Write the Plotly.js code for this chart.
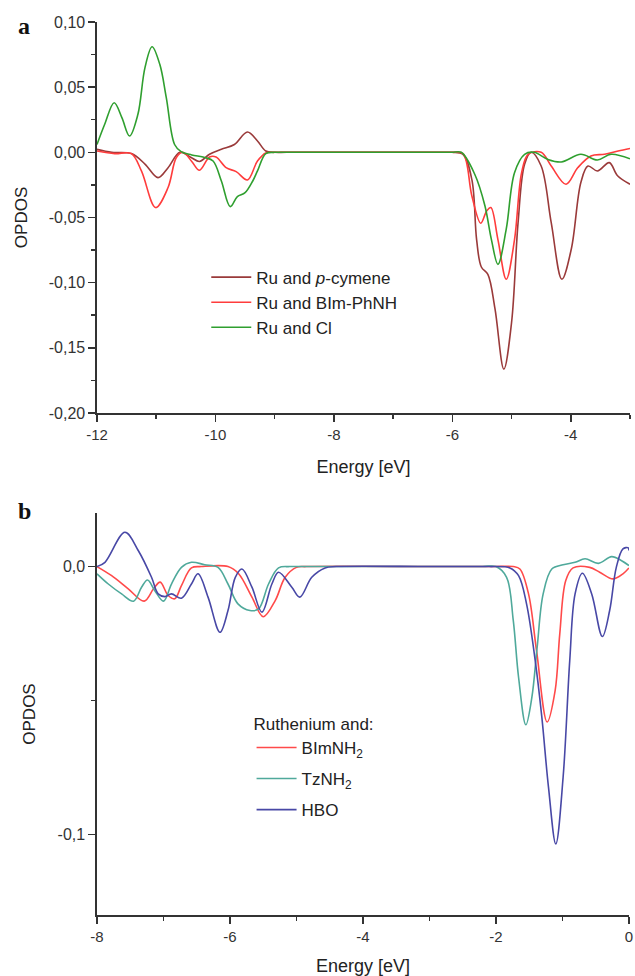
<!DOCTYPE html>
<html>
<head>
<meta charset="utf-8">
<script src="https://cdn.plot.ly/plotly-3.0.1.min.js"></script>
<style>html,body{margin:0;padding:0;background:#fff;}#chart{width:635px;height:976px;}</style>
</head>
<body>
<div id="chart"></div>
<script>
// ---------- Panel a data ----------
const pcymeneE = [-12, -11.75, -11.42, -11.19, -10.97, -10.80, -10.60, -10.41, -10.27, -10.10, -9.90, -9.68, -9.46, -9.29, -9.15, -9.0, -8.8, -7.0, -6.15, -6.0, -5.82, -5.67, -5.59, -5.51, -5.40, -5.28, -5.13, -5.00, -4.89, -4.78, -4.67, -4.50, -4.33, -4.15, -3.99, -3.83, -3.71, -3.55, -3.35, -3.21, -3.0];
const pcymeneV = [0.0023, 0.0, -0.001, -0.009, -0.0194, -0.0118, 0.0, -0.004, -0.007, -0.0015, 0.0023, 0.006, 0.0156, 0.0087, 0.001, 0, 0, 0, 0, 0, -0.0015, -0.021, -0.067, -0.088, -0.0936, -0.120, -0.1664, -0.1306, -0.054, -0.0092, 0.0, -0.0105, -0.054, -0.0974, -0.074, -0.0232, -0.0105, -0.0143, -0.0079, -0.018, -0.0245];

const bimphnhE = [-12, -11.7, -11.42, -11.25, -11.01, -10.80, -10.66, -10.55, -10.40, -10.27, -10.10, -9.99, -9.82, -9.65, -9.46, -9.29, -9.15, -9.0, -8.8, -7.0, -6.15, -6.0, -5.82, -5.67, -5.52, -5.42, -5.35, -5.23, -5.09, -4.95, -4.83, -4.72, -4.50, -4.33, -4.08, -3.88, -3.66, -3.43, -3.2, -3.0];
const bimphnhV = [0.001, -0.001, -0.001, -0.0143, -0.0424, -0.027, -0.004, 0, -0.007, -0.0138, -0.0036, -0.0036, -0.0118, -0.0148, -0.0212, -0.0067, -0.0005, 0, 0, 0, 0, 0, -0.001, -0.0335, -0.0544, -0.045, -0.0424, -0.067, -0.0974, -0.067, -0.0156, -0.0015, 0, -0.0105, -0.0245, -0.0117, -0.0028, -0.0015, 0.001, 0.003];

const clE = [-12, -11.87, -11.71, -11.58, -11.45, -11.31, -11.19, -11.07, -10.94, -10.83, -10.69, -10.58, -10.40, -10.18, -10.04, -9.90, -9.75, -9.63, -9.50, -9.37, -9.29, -9.15, -9.0, -8.8, -7.0, -6.15, -6.0, -5.85, -5.62, -5.45, -5.34, -5.23, -5.09, -4.95, -4.78, -4.62, -4.39, -4.16, -3.83, -3.55, -3.32, -3.0];
const clV = [0.006, 0.0215, 0.038, 0.0266, 0.0125, 0.029, 0.065, 0.081, 0.0675, 0.042, 0.006, 0.0005, -0.002, -0.004, -0.0067, -0.022, -0.0417, -0.034, -0.031, -0.022, -0.0143, -0.001, 0, 0, 0, 0, 0, 0, -0.017, -0.041, -0.067, -0.086, -0.059, -0.0156, -0.0015, 0, -0.0054, -0.0074, -0.0015, -0.0059, -0.0015, -0.005];

// ---------- Panel b data ----------
const bimnh2E = [-8, -7.78, -7.53, -7.29, -7.15, -7.05, -6.93, -6.83, -6.73, -6.58, -6.43, -6.03, -5.87, -5.67, -5.50, -5.32, -5.17, -5.00, -4.85, -3.0, -2.2, -2.0, -1.74, -1.64, -1.51, -1.39, -1.23, -1.11, -1.04, -0.95, -0.84, -0.59, -0.44, -0.24, -0.09, 0];
const bimnh2V = [0, -0.0034, -0.0083, -0.0129, -0.0083, -0.0058, -0.0108, -0.012, -0.0071, -0.0005, 0, 0, -0.0027, -0.0114, -0.0187, -0.0127, -0.004, -0.0003, 0, 0, 0, 0, 0, -0.0009, -0.0102, -0.0313, -0.058, -0.0463, -0.0251, -0.0052, -0.0005, -0.0003, -0.0021, -0.0046, -0.0027, -0.0005];

const tznh2E = [-8, -7.83, -7.63, -7.45, -7.33, -7.24, -7.13, -7.00, -6.88, -6.73, -6.58, -6.38, -6.18, -6.03, -5.88, -5.70, -5.57, -5.42, -5.27, -5.1, -4.8, -3.0, -2.2, -2.0, -1.84, -1.74, -1.66, -1.55, -1.46, -1.38, -1.29, -1.16, -0.99, -0.81, -0.66, -0.46, -0.26, -0.11, 0];
const tznh2V = [-0.0027, -0.0065, -0.0102, -0.0129, -0.0077, -0.005, -0.009, -0.0129, -0.0065, -0.0003, 0.0016, 0.0007, -0.0003, -0.0065, -0.0139, -0.0164, -0.0158, -0.0065, -0.0005, 0, 0, 0, 0, 0, -0.004, -0.020, -0.0413, -0.059, -0.0488, -0.030, -0.0102, -0.0009, 0.0007, 0.0016, 0.0029, 0.0012, 0.0037, 0.0022, 0.0004];

const hboE = [-8, -7.88, -7.58, -7.38, -7.18, -7.08, -6.98, -6.88, -6.73, -6.58, -6.48, -6.33, -6.15, -6.03, -5.92, -5.82, -5.67, -5.52, -5.37, -5.27, -5.07, -4.95, -4.77, -4.57, -4.4, -3.0, -2.3, -2.1, -1.79, -1.66, -1.54, -1.41, -1.31, -1.21, -1.10, -0.99, -0.89, -0.81, -0.70, -0.56, -0.40, -0.29, -0.19, -0.09, -0.01, 0];
const hboV = [0, 0.0016, 0.0128, 0.006, -0.004, -0.0102, -0.0112, -0.0102, -0.0118, -0.0065, -0.0027, -0.0114, -0.0245, -0.0164, -0.004, -0.0009, -0.0077, -0.017, -0.0065, -0.0021, -0.0077, -0.0114, -0.004, -0.0005, 0, 0, 0, 0, -0.0005, -0.0034, -0.0139, -0.035, -0.0562, -0.0823, -0.1035, -0.0786, -0.035, -0.0102, -0.0025, -0.0102, -0.0261, -0.0164, -0.0003, 0.0066, 0.007, 0.006];

// ---------- Tick labels ----------
const axTickVals = [-12, -10, -8, -6, -4];
const axTickText = ['-12', '-10', '-8', '-6', '-4'];
const axMinorVals = [-11, -9, -7, -5, -3];
const ayTickVals = [0.1, 0.05, 0, -0.05, -0.1, -0.15, -0.2];
const ayTickText = ['0,10', '0,05', '0,00', '-0,05', '-0,10', '-0,15', '-0,20'];
const ayMinorVals = [0.075, 0.025, -0.025, -0.075, -0.125, -0.175];
const bxTickVals = [-8, -6, -4, -2, 0];
const bxTickText = ['-8', '-6', '-4', '-2', '0'];
const bxMinorVals = [-7, -5, -3, -1];
const byTickVals = [0, -0.1];
const byTickText = ['0,0', '-0,1'];
const byMinorVals = [-0.05];

const FONT = 'Arial, "Liberation Sans", sans-serif';
const AX = '#333333';

function line(x, y, color, name, xa, ya, lg, grp) {
  return {x: x, y: y, type: 'scatter', mode: 'lines', name: name,
    line: {color: color, width: 1.6, shape: 'spline', smoothing: 1},
    xaxis: xa, yaxis: ya, legend: lg, legendgroup: grp, hoverinfo: 'skip'};
}

const traces = [
  line(pcymeneE, pcymeneV, '#9a3a3a', 'Ru and <i>p</i>-cymene', 'x', 'y', 'legend', 'a1'),
  line(bimphnhE, bimphnhV, '#ff3c3c', 'Ru and BIm-PhNH', 'x', 'y', 'legend', 'a1'),
  line(clE, clV, '#2f9f2f', 'Ru and Cl', 'x', 'y', 'legend', 'a1'),
  line(bimnh2E, bimnh2V, '#ff4a4a', 'BImNH<sub>2</sub>', 'x2', 'y2', 'legend2', 'b1'),
  line(tznh2E, tznh2V, '#4fa99b', 'TzNH<sub>2</sub>', 'x2', 'y2', 'legend2', 'b2'),
  line(hboE, hboV, '#4848a6', 'HBO', 'x2', 'y2', 'legend2', 'b3')
];

function axis(extra) {
  return Object.assign({
    showline: true, linecolor: AX, linewidth: 1.6, mirror: false,
    ticks: 'outside', ticklen: 7, tickwidth: 1.5, tickcolor: AX,
    showgrid: false, zeroline: false, tickmode: 'array',
    tickfont: {family: FONT, size: 15, color: '#333'}
  }, extra);
}

const layout = {
  width: 635, height: 976,
  margin: {l: 97, r: 5, t: 22, b: 61},
  paper_bgcolor: '#ffffff', plot_bgcolor: '#ffffff',
  font: {family: FONT, color: '#222'},
  showlegend: true,
  xaxis: axis({domain: [0, 1], range: [-12, -3], anchor: 'y',
    tickvals: axTickVals, ticktext: axTickText,
    minor: {tickmode: 'array', tickvals: axMinorVals, ticks: 'outside', ticklen: 4, tickwidth: 1.5, tickcolor: AX},
    title: {text: 'Energy [eV]', font: {family: FONT, size: 18, color: '#222'}, standoff: 19}}),
  yaxis: axis({domain: [0.5622, 1], range: [-0.2, 0.1], anchor: 'x',
    tickvals: ayTickVals, ticktext: ayTickText,
    tickfont: {family: FONT, size: 16, color: '#333'},
    minor: {tickmode: 'array', tickvals: ayMinorVals, ticks: 'outside', ticklen: 4, tickwidth: 1.5, tickcolor: AX},
    title: {text: 'OPDOS', font: {family: FONT, size: 17, color: '#222'}, standoff: 17}}),
  xaxis2: axis({domain: [0, 0.998], range: [-8, 0], anchor: 'y2',
    tickvals: bxTickVals, ticktext: bxTickText,
    minor: {tickmode: 'array', tickvals: bxMinorVals, ticks: 'outside', ticklen: 4, tickwidth: 1.5, tickcolor: AX},
    title: {text: 'Energy [eV]', font: {family: FONT, size: 18, color: '#222'}, standoff: 19}}),
  yaxis2: axis({domain: [0, 0.4502], range: [-0.13, 0.02], anchor: 'x2',
    tickvals: byTickVals, ticktext: byTickText,
    tickfont: {family: FONT, size: 16, color: '#333'},
    minor: {tickmode: 'array', tickvals: byMinorVals, ticks: 'outside', ticklen: 4, tickwidth: 1.5, tickcolor: AX},
    title: {text: 'OPDOS', font: {family: FONT, size: 17, color: '#222'}, standoff: 17}}),
  legend: {x: 0.205, y: 0.734, xanchor: 'left', yanchor: 'top', itemwidth: 40,
    bgcolor: 'rgba(0,0,0,0)', font: {family: FONT, size: 17, color: '#222'},
    tracegroupgap: 0},
  legend2: {x: 0.29, y: 0.232, xanchor: 'left', yanchor: 'top', itemwidth: 40,
    bgcolor: 'rgba(0,0,0,0)', font: {family: FONT, size: 17, color: '#222'},
    title: {text: 'Ruthenium and:', side: 'top', font: {family: FONT, size: 17, color: '#222'}},
    tracegroupgap: 6},
  annotations: [
    {text: '<b>a</b>', xref: 'paper', yref: 'paper', x: -0.152, y: 0.996, xanchor: 'left', yanchor: 'middle',
      showarrow: false, font: {family: '"Liberation Serif", "DejaVu Serif", serif', size: 24, color: '#111'}},
    {text: '<b>b</b>', xref: 'paper', yref: 'paper', x: -0.152, y: 0.452, xanchor: 'left', yanchor: 'middle',
      showarrow: false, font: {family: '"Liberation Serif", "DejaVu Serif", serif', size: 24, color: '#111'}}
  ]
};

Plotly.newPlot('chart', traces, layout, {staticPlot: true, displayModeBar: false});
</script>
</body>
</html>
